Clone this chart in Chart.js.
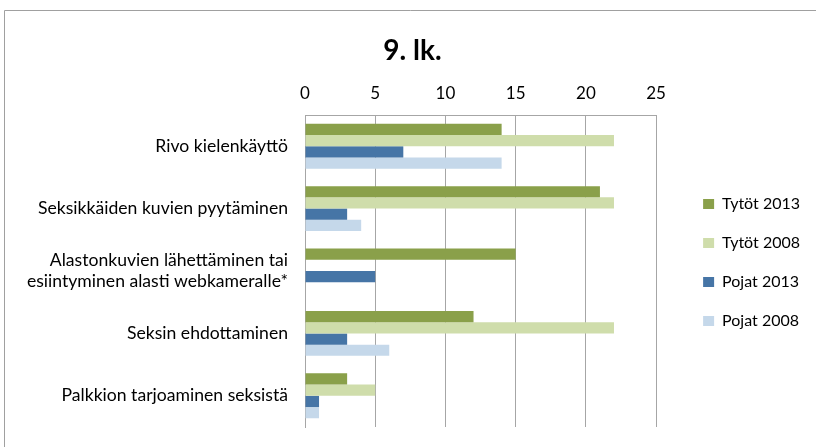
<!DOCTYPE html>
<html>
<head>
<meta charset="utf-8">
<script src="https://cdn.jsdelivr.net/npm/chart.js@4.4.0/dist/chart.umd.min.js"></script>
<style>
  html, body { margin: 0; padding: 0; background: #fff; }
  #wrap { position: relative; width: 816px; height: 447px; }
</style>
</head>
<body>
<div id="wrap"><canvas id="c" width="816" height="447"></canvas></div>
<script>
const categories = [
  'Rivo kielenkäyttö',
  'Seksikkäiden kuvien pyytäminen',
  ['Alastonkuvien lähettäminen tai', 'esiintyminen alasti webkameralle*'],
  'Seksin ehdottaminen',
  'Palkkion tarjoaminen seksistä'
];
const seriesNames = ['Tytöt 2013', 'Tytöt 2008', 'Pojat 2013', 'Pojat 2008'];
const tytot2013 = [14, 21, 15, 12, 3];
const tytot2008 = [22, 22, null, 22, 5];
const pojat2013 = [7, 3, 5, 3, 1];
const pojat2008 = [14, 4, null, 6, 1];
const xTicks = [0, 5, 10, 15, 20, 25];
const titleText = '9. lk.';

const colors = ['#8AA04A', '#CFDDAB', '#4675A6', '#C5D8EA'];
const FONT = 'Lato, "Liberation Sans", sans-serif';

const framePlugin = {
  id: 'frame',
  afterDraw(chart) {
    const ctx = chart.ctx;
    ctx.save();
    ctx.strokeStyle = '#A0A0A0';
    ctx.lineWidth = 1;
    ctx.beginPath();
    ctx.moveTo(4.5, 447);
    ctx.lineTo(4.5, 10.5);
    ctx.lineTo(816, 10.5);
    ctx.stroke();
    ctx.restore();
  }
};

new Chart(document.getElementById('c'), {
  type: 'bar',
  data: {
    labels: categories,
    datasets: [tytot2013, tytot2008, pojat2013, pojat2008].map((d, i) => ({
      label: seriesNames[i],
      data: d,
      backgroundColor: colors[i],
      borderWidth: 0,
      barPercentage: 1.0,
      categoryPercentage: 0.72
    }))
  },
  options: {
    indexAxis: 'y',
    responsive: false,
    animation: false,
    layout: { padding: { left: 15, right: 6, top: 0, bottom: 20 } },
    plugins: {
      title: {
        display: true,
        text: titleText,
        color: '#000',
        font: { family: FONT, size: 28, weight: 'bold' },
        padding: { top: 34, bottom: 5 }
      },
      legend: {
        position: 'right',
        title: {
          display: true,
          text: ' ',
          font: { family: FONT, size: 10 },
          padding: { top: 86, bottom: 0 }
        },
        labels: {
          color: '#000',
          font: { family: FONT, size: 16 },
          boxWidth: 11,
          boxHeight: 10,
          padding: 23
        }
      },
      tooltip: { enabled: false }
    },
    scales: {
      x: {
        position: 'top',
        min: 0,
        max: 25,
        afterBuildTicks: s => { s.ticks = xTicks.map(v => ({ value: v })); },
        ticks: {
          color: '#000',
          font: { family: FONT, size: 17 },
          padding: 11
        },
        grid: { color: '#A6A6A6', lineWidth: 1, drawTicks: false },
        border: { display: true, color: '#A6A6A6' }
      },
      y: {
        ticks: {
          color: '#000',
          font: { family: FONT, size: 17.6 },
          padding: 17
        },
        grid: { display: false, drawTicks: false },
        border: { display: true, color: '#A6A6A6' },
        afterFit: s => { s.width = 290; s.paddingTop = 0; s.paddingBottom = 0; }
      },
      yGap: {
        type: 'linear',
        position: 'right',
        display: true,
        ticks: { display: false },
        grid: { display: false, drawTicks: false },
        border: { display: false },
        afterFit: s => { s.width = 24; s.paddingTop = 0; s.paddingBottom = 0; }
      }
    }
  },
  plugins: [framePlugin]
});
</script>
</body>
</html>
